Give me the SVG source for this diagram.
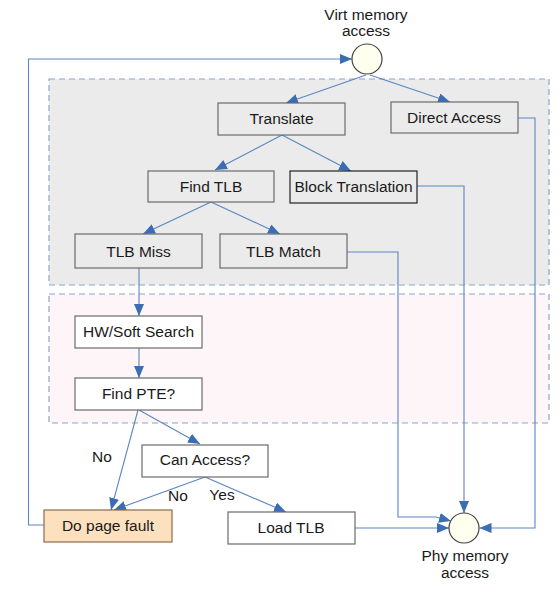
<svg xmlns="http://www.w3.org/2000/svg" width="560" height="598" viewBox="0 0 560 598">
<style>
.t{font-family:"Liberation Sans",Arial,sans-serif;font-size:15.5px;fill:#1a1a1a;text-anchor:middle}
.b{fill:#ebebeb;stroke:#6b6b6b;stroke-width:1.2}
.w{fill:#ffffff;stroke:#6b6b6b;stroke-width:1.2}
.c{fill:none;stroke:#5b86c0;stroke-width:1.1}
.reg{stroke:#8ea6c9;stroke-width:1.2;stroke-dasharray:6 4}
</style>
<defs>
<marker id="a" viewBox="0 0 12 10" refX="12" refY="5" markerWidth="12" markerHeight="10" markerUnits="userSpaceOnUse" orient="auto">
<path d="M0,0 L12,5 L0,10 z" fill="#3a6db4"/>
</marker>
</defs>
<rect width="560" height="598" fill="#ffffff"/>
<g id="regions">
<rect class="reg" x="49" y="79" width="500" height="206" fill="#ebebeb"/>
<rect class="reg" x="49" y="294" width="500" height="129" fill="#fdf5f7"/>
</g>
<g id="connectors">
<path class="c" d="M44,525 H28.5 V59 H352" marker-end="url(#a)"/>
<path class="c" d="M366,75 L286,103" marker-end="url(#a)"/>
<path class="c" d="M370,75 L450,102" marker-end="url(#a)"/>
<path class="c" d="M282,135 L215,170" marker-end="url(#a)"/>
<path class="c" d="M282,135 L351,171" marker-end="url(#a)"/>
<path class="c" d="M211,202 L143,234" marker-end="url(#a)"/>
<path class="c" d="M211,202 L280,234" marker-end="url(#a)"/>
<path class="c" d="M139,268 V316" marker-end="url(#a)"/>
<path class="c" d="M139,348 V378" marker-end="url(#a)"/>
<path class="c" d="M139,410 L200,444" marker-end="url(#a)"/>
<path class="c" d="M138,410 L111,510" marker-end="url(#a)"/>
<path class="c" d="M205,477 L114,510" marker-end="url(#a)"/>
<path class="c" d="M205,477 L286,512" marker-end="url(#a)"/>
<path class="c" d="M417,186 H464 V513" marker-end="url(#a)"/>
<path class="c" d="M518,118 H535 V528 H479.5" marker-end="url(#a)"/>
<path class="c" d="M347,252 H398 V517 H436 L451,521" marker-end="url(#a)"/>
<path class="c" d="M355,528 L449,528" marker-end="url(#a)"/>
</g>
<g id="virt">
<circle cx="367" cy="59" r="15" fill="#fffff0" stroke="#444" stroke-width="1.2"/>
<text class="t" x="366" y="20">Virt memory</text>
<text class="t" x="366" y="36">access</text>
</g>
<g id="translate"><rect class="b" x="218" y="103" width="127" height="32"/><text class="t" x="281.5" y="124">Translate</text></g>
<g id="direct"><rect class="b" x="391" y="102" width="127" height="31"/><text class="t" x="454" y="123">Direct Access</text></g>
<g id="findtlb"><rect class="b" x="148" y="171" width="126" height="31"/><text class="t" x="211" y="192">Find TLB</text></g>
<g id="block"><rect x="290" y="171" width="127" height="32" fill="#ebebeb" stroke="#222" stroke-width="1.2"/><text class="t" x="353.5" y="192">Block Translation</text></g>
<g id="tlbmiss"><rect class="b" x="75" y="234" width="127" height="34"/><text class="t" x="138.5" y="257">TLB Miss</text></g>
<g id="tlbmatch"><rect class="b" x="220" y="234" width="127" height="34"/><text class="t" x="283.5" y="257">TLB Match</text></g>
<g id="hwsearch"><rect class="w" x="75" y="316" width="127" height="32"/><text class="t" x="138.5" y="337">HW/Soft Search</text></g>
<g id="findpte"><rect class="w" x="75" y="378" width="127" height="32"/><text class="t" x="138.5" y="399">Find PTE?</text></g>
<g id="canaccess"><rect class="w" x="142" y="445" width="126" height="32"/><text class="t" x="205" y="465">Can Access?</text></g>
<g id="pagefault"><rect x="44" y="510" width="128" height="32" fill="#fde1bf" stroke="#8a6a4a" stroke-width="1.2"/><text class="t" x="108" y="531">Do page fault</text></g>
<g id="loadtlb"><rect class="w" x="228" y="512" width="127" height="32"/><text class="t" x="291" y="533">Load TLB</text></g>
<g id="phy">
<circle cx="464" cy="528" r="15" fill="#fffff0" stroke="#444" stroke-width="1.2"/>
<text class="t" x="465" y="561">Phy memory</text>
<text class="t" x="465" y="578">access</text>
</g>
<g id="labels">
<text class="t" x="102" y="462">No</text>
<text class="t" x="178" y="501">No</text>
<text class="t" x="222" y="500">Yes</text>
</g>
</svg>
